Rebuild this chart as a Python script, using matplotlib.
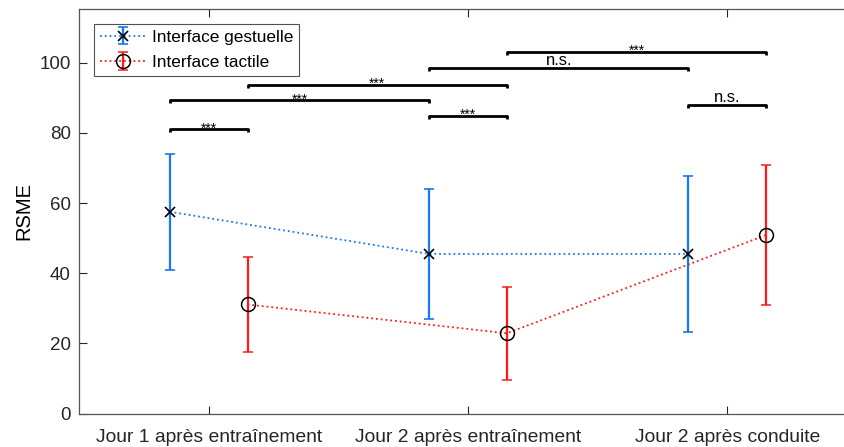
import matplotlib
matplotlib.use("Agg")
import matplotlib.pyplot as plt
import numpy as np

plt.rcParams['font.family'] = ['Liberation Sans', 'DejaVu Sans']

categories = ["Jour 1 après entraînement", "Jour 2 après entraînement", "Jour 2 après conduite"]
gest_mean = [57.5, 45.5, 45.5]
gest_err = [16.5, 18.6, 22.3]
tact_mean = [31.1, 22.9, 50.9]
tact_err = [13.6, 13.3, 20.0]
series_names = ["Interface gestuelle", "Interface tactile"]
yticks = [0, 20, 40, 60, 80, 100]

# significance brackets: (series_a, group_a, series_b, group_b, height, label)
# series 0 = gestuelle, 1 = tactile
sig_a_series = [0, 0, 1, 0, 0, 1, 0]
sig_a_group = [0, 0, 0, 1, 1, 1, 2]
sig_b_series = [1, 0, 1, 1, 0, 1, 1]
sig_b_group = [0, 1, 1, 1, 2, 2, 2]
sig_height = [81.0, 89.3, 93.6, 84.8, 98.4, 103.0, 88.0]
sig_label = ["***", "***", "***", "***", "n.s.", "***", "n.s."]

blue = '#1877f2'
red = '#ff1a1a'
offset = 0.15

fig = plt.figure(figsize=(8.44, 4.47), dpi=100)
ax = fig.add_axes([79/844, 1 - 413.7/447, 778/844, (413.7 - 8.5)/447])

x = np.arange(1, len(categories) + 1)
xg = x - offset
xt = x + offset

ax.errorbar(xg, gest_mean, yerr=gest_err, fmt='x', ls=':', color=blue, ecolor=blue,
            mec='black', mfc='none', ms=7, mew=1.2, elinewidth=1.6, capsize=3.3, capthick=1.6,
            lw=1.3, label=series_names[0])
ax.errorbar(xt, tact_mean, yerr=tact_err, fmt='o', ls=':', color=red, ecolor=red,
            mec='black', mfc='none', ms=10, mew=1.1, elinewidth=1.6, capsize=3.3, capthick=1.6,
            lw=1.3, label=series_names[1])

pos = [xg, xt]
d = 0.9
for sa, ga, sb, gb, h, lab in zip(sig_a_series, sig_a_group, sig_b_series, sig_b_group, sig_height, sig_label):
    x1 = pos[sa][ga]
    x2 = pos[sb][gb]
    ax.plot([x1, x1, x2, x2], [h - d, h, h, h - d], color='black', lw=2, solid_capstyle='butt')
    if lab == "***":
        ax.text((x1 + x2) / 2, h - 0.9, lab, ha='center', va='baseline', fontsize=10)
    else:
        ax.text((x1 + x2) / 2, h + 0.9, lab, ha='center', va='baseline', fontsize=12)

ax.set_xlim(0.5, 3.5)
ax.set_ylim(0, 115.4)
ax.set_xticks(x)
ax.set_xticklabels(categories)
ax.set_yticks(yticks)
ax.set_ylabel("RSME", fontsize=14.5, labelpad=4)
ax.tick_params(direction='in', length=5.5, width=0.8, colors='#262626', labelsize=13.5,
               top=True, right=False)
ax.tick_params(axis='x', pad=11, labelsize=13.9)
ax.tick_params(axis='y', pad=6)
ax.spines['right'].set_visible(False)
for s in ax.spines.values():
    s.set_color('#555555')
    s.set_linewidth(0.9)

leg = ax.legend(loc='upper left', bbox_to_anchor=(15/778, 1 - 15.5/405), fontsize=12.4,
                frameon=True, fancybox=False, edgecolor='#262626', handlelength=2.7,
                borderpad=0.33, labelspacing=0.6, handletextpad=0.35, borderaxespad=0)
leg.get_frame().set_linewidth(0.8)

fig.savefig("out.png", dpi=100)
